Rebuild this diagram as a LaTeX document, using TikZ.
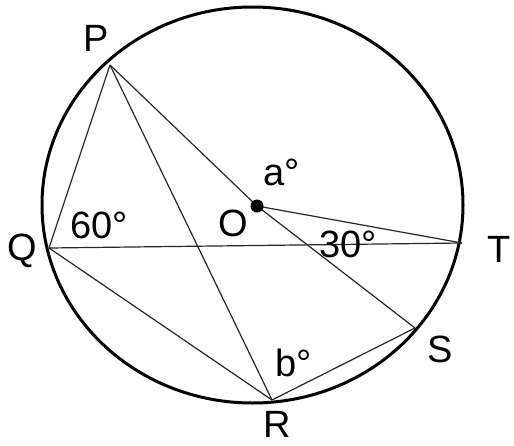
\documentclass[tikz,border=0pt]{standalone}
\usepackage{fontspec}
\setmainfont{Liberation Sans}
\begin{document}
\begin{tikzpicture}[x=1pt,y=-1pt,
  thin line/.style={line width=1.2pt,draw=black!85},
  lbl/.style={font=\fontsize{38}{40}\selectfont,inner sep=0pt}]
\useasboundingbox (0,0) rectangle (514,445);
\draw[line width=3pt] (252.5,205) ellipse [x radius=210.5, y radius=198];
\coordinate (P) at (110,65);
\coordinate (Q) at (49,248);
\coordinate (T) at (462,243);
\coordinate (S) at (415,328);
\coordinate (R) at (272,400);
\coordinate (O) at (257,206);
\draw[thin line] (P) -- (Q);
\draw[thin line] (P) -- (R);
\draw[thin line] (P) -- (O) -- (S);
\draw[thin line] (Q) -- (T);
\draw[thin line] (Q) -- (R);
\draw[thin line] (R) -- (S);
\draw[thin line] (O) -- (T);
\fill (O) circle (6.5);
\node[lbl] (lP) at (96.5,38) {P};
\node[lbl] (lQ) at (22,251) {Q};
\node[lbl] (lT) at (499,249) {T};
\node[lbl] (lS) at (440,349) {S};
\node[lbl] (lR) at (277,424) {R};
\node[lbl] (lO) at (233,223) {O};
\node[lbl] (la) at (282,172) {a°};
\node[lbl] (l60) at (99,225) {60°};
\node[lbl] (l30) at (348,244) {30°};
\node[lbl] (lb) at (294,363) {b°};
\end{tikzpicture}
\end{document}
